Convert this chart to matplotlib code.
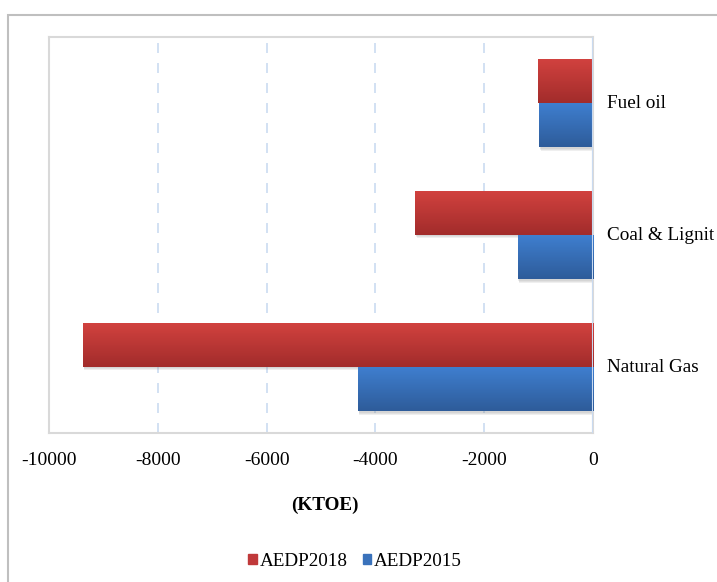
import numpy as np
import matplotlib.pyplot as plt
from matplotlib.patches import Rectangle
from matplotlib.colors import LinearSegmentedColormap

plt.rcParams['font.family'] = ['Liberation Serif', 'DejaVu Serif']
plt.rcParams['axes.unicode_minus'] = False

# change in fuel use (KTOE)
categories = ['Natural Gas', 'Coal & Lignit', 'Fuel oil']
aedp2018 = [-9375, -3270, -1010]
aedp2015 = [-4320, -1380, -990]

fig = plt.figure(figsize=(7.17, 5.82), dpi=100)

# outer chart frame (runs off the right and bottom edges)
fig.patches.append(Rectangle((8 / 717, -0.1), 1.2, 1 - 15 / 582 + 0.1,
                             transform=fig.transFigure, fill=False,
                             edgecolor='#bfbfbf', linewidth=1.5))

ax = fig.add_axes([49 / 717, 1 - 433 / 582, 544 / 717, 396 / 582])

y = np.arange(len(categories))
h = 0.337

red = LinearSegmentedColormap.from_list('r', ['#a22c2b', '#d2423f'])
blue = LinearSegmentedColormap.from_list('b', ['#2e5c9a', '#3f7fd0'])
grad = np.linspace(0, 1, 64).reshape(-1, 1)


def shaded_bars(ypos, vals, cmap, edge):
    bars = ax.barh(ypos, vals, height=h, color=edge, zorder=3)
    for b in bars:
        x0, y0 = b.get_x(), b.get_y()
        w, hh = b.get_width(), b.get_height()
        # soft drop shadow below each bar
        for k in range(3):
            ax.add_patch(Rectangle((x0 + 10 + 8 * k, y0 - 0.008 * (k + 1)), w, hh,
                                   color='#808080', alpha=0.12, zorder=2,
                                   linewidth=0))
        im = ax.imshow(grad, cmap=cmap, aspect='auto', origin='lower',
                       extent=(x0, x0 + w, y0, y0 + hh), zorder=4)
        im.set_clip_path(b)
    return bars


shaded_bars(y + h / 2, aedp2018, red, '#c0393a')
shaded_bars(y - h / 2, aedp2015, blue, '#3a72bb')

ax.set_xlim(-10000, 0)
ax.set_ylim(-0.5, 2.5)
ax.set_xticks(np.arange(-10000, 1, 2000))
ax.set_yticks([])
ax.tick_params(axis='x', length=0, pad=14, labelsize=14)

for xv in range(-8000, 0, 2000):
    ax.axvline(xv, color='#cbdcf1', linestyle=(0, (6, 6)), linewidth=1.2, zorder=1)
ax.axvline(0, color='#c9daf0', linewidth=1.5, zorder=5)

for s in ax.spines.values():
    s.set_color('#d9d9d9')
    s.set_linewidth(1.5)

for yi, name in zip(y, categories):
    ax.text(1.025, (yi + 0.5) / 3, name, transform=ax.transAxes,
            ha='left', va='center', fontsize=13.8, clip_on=False)

fig.text(325 / 717, 1 - 505 / 582, '(KTOE)', ha='center', va='center',
         fontsize=13.8, fontweight='bold')

handles = [Rectangle((0, 0), 1, 1, color='#c0393a'),
           Rectangle((0, 0), 1, 1, color='#3a72bb')]
fig.legend(handles, ['AEDP2018', 'AEDP2015'], loc='center',
           bbox_to_anchor=(355 / 717, 1 - 561 / 582), ncol=2, frameon=False,
           fontsize=13.8, handlelength=0.45, handleheight=0.45,
           handletextpad=0.15, columnspacing=0.8)

fig.savefig('out.png', dpi=100)
